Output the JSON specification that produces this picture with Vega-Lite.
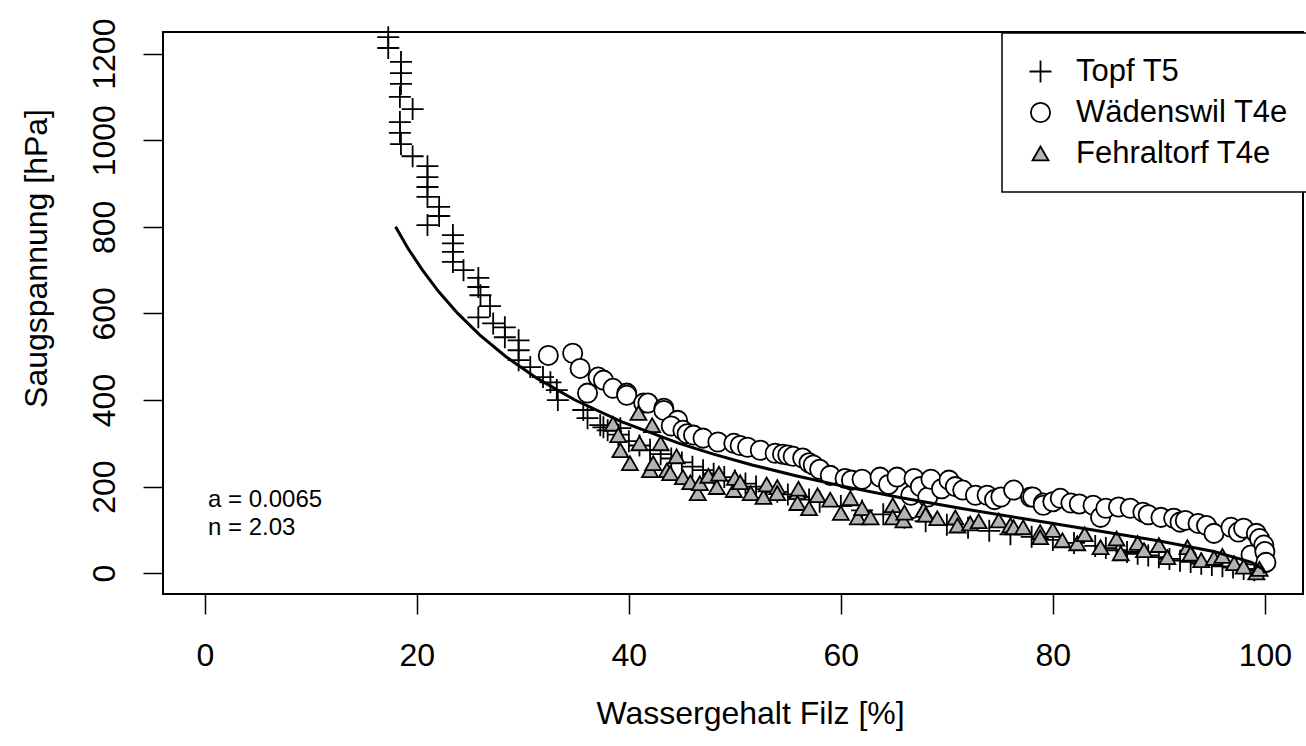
{
  "$schema": "https://vega.github.io/schema/vega-lite/v6.json",
  "width": 1140,
  "height": 562,
  "autosize": {"type": "none"},
  "padding": {"left": 163, "top": 32, "right": 3, "bottom": 152},
  "background": "white",
  "config": {
    "view": {"stroke": "black", "strokeWidth": 2},
    "font": "Liberation Sans",
    "axis": {
      "domain": false, "grid": false, "tickColor": "black", "tickSize": 20, "tickWidth": 1.5,
      "labelFont": "Liberation Sans", "labelFontSize": 32, "labelColor": "black",
      "titleFont": "Liberation Sans", "titleFontSize": 32, "titleFontWeight": "normal", "titleColor": "black"
    },
    "legend": {
      "orient": "none", "legendX": 839, "legendY": 1, "strokeColor": "black", "strokeWidth": 1.5,
      "fillColor": "white", "padding": 23, "labelFont": "Liberation Sans", "labelFontSize": 31,
      "labelColor": "black", "labelOffset": 20, "rowPadding": 9, "labelLimit": 0,
      "symbolStrokeWidth": 1.8, "symbolStrokeColor": "black", "symbolOpacity": 1, "title": null
    }
  },
  "layer": [
    {
      "data": {"values": [
        {"series": "Topf T5", "theta": 17.3, "h": 1238}, {"series": "Topf T5", "theta": 17.3, "h": 1213},
        {"series": "Topf T5", "theta": 18.5, "h": 1181}, {"series": "Topf T5", "theta": 18.5, "h": 1155},
        {"series": "Topf T5", "theta": 18.5, "h": 1130}, {"series": "Topf T5", "theta": 18.4, "h": 1100},
        {"series": "Topf T5", "theta": 19.6, "h": 1072}, {"series": "Topf T5", "theta": 18.4, "h": 1042},
        {"series": "Topf T5", "theta": 18.4, "h": 1017}, {"series": "Topf T5", "theta": 18.5, "h": 991},
        {"series": "Topf T5", "theta": 19.6, "h": 963}, {"series": "Topf T5", "theta": 21.0, "h": 940},
        {"series": "Topf T5", "theta": 21.0, "h": 915}, {"series": "Topf T5", "theta": 21.0, "h": 892},
        {"series": "Topf T5", "theta": 21.0, "h": 869}, {"series": "Topf T5", "theta": 22.1, "h": 846},
        {"series": "Topf T5", "theta": 22.1, "h": 825}, {"series": "Topf T5", "theta": 21.0, "h": 804},
        {"series": "Topf T5", "theta": 23.4, "h": 781}, {"series": "Topf T5", "theta": 23.4, "h": 762},
        {"series": "Topf T5", "theta": 23.4, "h": 742}, {"series": "Topf T5", "theta": 23.4, "h": 719},
        {"series": "Topf T5", "theta": 24.4, "h": 700}, {"series": "Topf T5", "theta": 25.8, "h": 682},
        {"series": "Topf T5", "theta": 25.8, "h": 661}, {"series": "Topf T5", "theta": 26.0, "h": 642},
        {"series": "Topf T5", "theta": 26.9, "h": 617}, {"series": "Topf T5", "theta": 25.8, "h": 591},
        {"series": "Topf T5", "theta": 27.2, "h": 577}, {"series": "Topf T5", "theta": 28.3, "h": 568},
        {"series": "Topf T5", "theta": 28.3, "h": 545}, {"series": "Topf T5", "theta": 29.6, "h": 538},
        {"series": "Topf T5", "theta": 29.6, "h": 515}, {"series": "Topf T5", "theta": 29.6, "h": 492},
        {"series": "Topf T5", "theta": 30.7, "h": 476}, {"series": "Topf T5", "theta": 31.9, "h": 453},
        {"series": "Topf T5", "theta": 32.6, "h": 441}, {"series": "Topf T5", "theta": 33.2, "h": 423},
        {"series": "Topf T5", "theta": 33.3, "h": 400}, {"series": "Topf T5", "theta": 35.7, "h": 377},
        {"series": "Topf T5", "theta": 36.1, "h": 358}, {"series": "Topf T5", "theta": 37.3, "h": 342},
        {"series": "Topf T5", "theta": 37.6, "h": 337}, {"series": "Topf T5", "theta": 39.2, "h": 335},
        {"series": "Topf T5", "theta": 38.0, "h": 330}, {"series": "Topf T5", "theta": 39.0, "h": 320},
        {"series": "Topf T5", "theta": 40.0, "h": 305}, {"series": "Topf T5", "theta": 41.0, "h": 295},
        {"series": "Topf T5", "theta": 42.0, "h": 285}, {"series": "Topf T5", "theta": 43.0, "h": 275},
        {"series": "Topf T5", "theta": 44.0, "h": 265}, {"series": "Topf T5", "theta": 45.0, "h": 256},
        {"series": "Topf T5", "theta": 46.0, "h": 246}, {"series": "Topf T5", "theta": 47.0, "h": 238},
        {"series": "Topf T5", "theta": 48.0, "h": 230}, {"series": "Topf T5", "theta": 49.0, "h": 222},
        {"series": "Topf T5", "theta": 50.0, "h": 214}, {"series": "Topf T5", "theta": 51.0, "h": 207},
        {"series": "Topf T5", "theta": 52.0, "h": 200}, {"series": "Topf T5", "theta": 53.0, "h": 194},
        {"series": "Topf T5", "theta": 54.0, "h": 188}, {"series": "Topf T5", "theta": 55.0, "h": 182},
        {"series": "Topf T5", "theta": 56.0, "h": 176}, {"series": "Topf T5", "theta": 57.0, "h": 170},
        {"series": "Topf T5", "theta": 58.0, "h": 165}, {"series": "Topf T5", "theta": 60.0, "h": 155},
        {"series": "Topf T5", "theta": 62.0, "h": 145}, {"series": "Topf T5", "theta": 64.0, "h": 136},
        {"series": "Topf T5", "theta": 66.0, "h": 128}, {"series": "Topf T5", "theta": 68.0, "h": 120},
        {"series": "Topf T5", "theta": 70.0, "h": 112}, {"series": "Topf T5", "theta": 72.0, "h": 105},
        {"series": "Topf T5", "theta": 74.0, "h": 98}, {"series": "Topf T5", "theta": 76.0, "h": 90},
        {"series": "Topf T5", "theta": 78.0, "h": 84}, {"series": "Topf T5", "theta": 80.0, "h": 77},
        {"series": "Topf T5", "theta": 82.0, "h": 70}, {"series": "Topf T5", "theta": 84.0, "h": 63},
        {"series": "Topf T5", "theta": 85.0, "h": 58}, {"series": "Topf T5", "theta": 86.0, "h": 53},
        {"series": "Topf T5", "theta": 87.0, "h": 49}, {"series": "Topf T5", "theta": 88.0, "h": 45},
        {"series": "Topf T5", "theta": 89.0, "h": 41}, {"series": "Topf T5", "theta": 90.0, "h": 37},
        {"series": "Topf T5", "theta": 91.0, "h": 33}, {"series": "Topf T5", "theta": 92.0, "h": 29},
        {"series": "Topf T5", "theta": 93.0, "h": 26}, {"series": "Topf T5", "theta": 94.0, "h": 22},
        {"series": "Topf T5", "theta": 95.0, "h": 19}, {"series": "Topf T5", "theta": 96.0, "h": 16},
        {"series": "Topf T5", "theta": 97.0, "h": 13}, {"series": "Topf T5", "theta": 98.0, "h": 10},
        {"series": "Topf T5", "theta": 99.0, "h": 7},

        {"series": "Wädenswil T4e", "theta": 32.4, "h": 503}, {"series": "Wädenswil T4e", "theta": 34.7, "h": 508},
        {"series": "Wädenswil T4e", "theta": 35.4, "h": 473}, {"series": "Wädenswil T4e", "theta": 37.1, "h": 453},
        {"series": "Wädenswil T4e", "theta": 37.6, "h": 446}, {"series": "Wädenswil T4e", "theta": 36.1, "h": 416},
        {"series": "Wädenswil T4e", "theta": 38.5, "h": 427}, {"series": "Wädenswil T4e", "theta": 39.8, "h": 416},
        {"series": "Wädenswil T4e", "theta": 39.8, "h": 411}, {"series": "Wädenswil T4e", "theta": 41.4, "h": 393},
        {"series": "Wädenswil T4e", "theta": 41.8, "h": 393}, {"series": "Wädenswil T4e", "theta": 43.3, "h": 381},
        {"series": "Wädenswil T4e", "theta": 43.3, "h": 376}, {"series": "Wädenswil T4e", "theta": 44.6, "h": 353},
        {"series": "Wädenswil T4e", "theta": 44.0, "h": 340}, {"series": "Wädenswil T4e", "theta": 45.1, "h": 330},
        {"series": "Wädenswil T4e", "theta": 45.5, "h": 322}, {"series": "Wädenswil T4e", "theta": 46.1, "h": 319},
        {"series": "Wädenswil T4e", "theta": 47.0, "h": 312}, {"series": "Wädenswil T4e", "theta": 48.4, "h": 303},
        {"series": "Wädenswil T4e", "theta": 49.9, "h": 300}, {"series": "Wädenswil T4e", "theta": 50.5, "h": 295},
        {"series": "Wädenswil T4e", "theta": 51.2, "h": 291}, {"series": "Wädenswil T4e", "theta": 52.4, "h": 284},
        {"series": "Wädenswil T4e", "theta": 53.8, "h": 277}, {"series": "Wädenswil T4e", "theta": 54.5, "h": 275},
        {"series": "Wädenswil T4e", "theta": 55.0, "h": 273}, {"series": "Wädenswil T4e", "theta": 55.5, "h": 270},
        {"series": "Wädenswil T4e", "theta": 56.4, "h": 266}, {"series": "Wädenswil T4e", "theta": 57.0, "h": 255},
        {"series": "Wädenswil T4e", "theta": 57.4, "h": 250}, {"series": "Wädenswil T4e", "theta": 58.0, "h": 240},
        {"series": "Wädenswil T4e", "theta": 59.0, "h": 226}, {"series": "Wädenswil T4e", "theta": 60.4, "h": 219},
        {"series": "Wädenswil T4e", "theta": 61.0, "h": 215}, {"series": "Wädenswil T4e", "theta": 62.0, "h": 217},
        {"series": "Wädenswil T4e", "theta": 63.7, "h": 222}, {"series": "Wädenswil T4e", "theta": 64.5, "h": 205},
        {"series": "Wädenswil T4e", "theta": 65.3, "h": 222}, {"series": "Wädenswil T4e", "theta": 66.6, "h": 180},
        {"series": "Wädenswil T4e", "theta": 66.9, "h": 219}, {"series": "Wädenswil T4e", "theta": 67.5, "h": 200},
        {"series": "Wädenswil T4e", "theta": 68.2, "h": 176}, {"series": "Wädenswil T4e", "theta": 68.5, "h": 217},
        {"series": "Wädenswil T4e", "theta": 69.5, "h": 195}, {"series": "Wädenswil T4e", "theta": 70.2, "h": 215},
        {"series": "Wädenswil T4e", "theta": 70.8, "h": 200}, {"series": "Wädenswil T4e", "theta": 71.5, "h": 192},
        {"series": "Wädenswil T4e", "theta": 72.7, "h": 180}, {"series": "Wädenswil T4e", "theta": 73.8, "h": 180},
        {"series": "Wädenswil T4e", "theta": 74.5, "h": 170}, {"series": "Wädenswil T4e", "theta": 75.1, "h": 176},
        {"series": "Wädenswil T4e", "theta": 76.3, "h": 192}, {"series": "Wädenswil T4e", "theta": 77.9, "h": 176},
        {"series": "Wädenswil T4e", "theta": 78.1, "h": 176}, {"series": "Wädenswil T4e", "theta": 79.1, "h": 162},
        {"series": "Wädenswil T4e", "theta": 79.1, "h": 157}, {"series": "Wädenswil T4e", "theta": 80.0, "h": 165},
        {"series": "Wädenswil T4e", "theta": 80.7, "h": 173}, {"series": "Wädenswil T4e", "theta": 81.7, "h": 162},
        {"series": "Wädenswil T4e", "theta": 82.5, "h": 160}, {"series": "Wädenswil T4e", "theta": 83.8, "h": 157},
        {"series": "Wädenswil T4e", "theta": 84.5, "h": 129}, {"series": "Wädenswil T4e", "theta": 85.0, "h": 150},
        {"series": "Wädenswil T4e", "theta": 86.2, "h": 153}, {"series": "Wädenswil T4e", "theta": 87.3, "h": 150},
        {"series": "Wädenswil T4e", "theta": 88.5, "h": 141}, {"series": "Wädenswil T4e", "theta": 89.0, "h": 135},
        {"series": "Wädenswil T4e", "theta": 90.2, "h": 129}, {"series": "Wädenswil T4e", "theta": 91.4, "h": 127},
        {"series": "Wädenswil T4e", "theta": 92.0, "h": 118}, {"series": "Wädenswil T4e", "theta": 92.5, "h": 122},
        {"series": "Wädenswil T4e", "theta": 93.7, "h": 115}, {"series": "Wädenswil T4e", "theta": 94.5, "h": 110},
        {"series": "Wädenswil T4e", "theta": 95.2, "h": 92}, {"series": "Wädenswil T4e", "theta": 96.8, "h": 106},
        {"series": "Wädenswil T4e", "theta": 97.5, "h": 95}, {"series": "Wädenswil T4e", "theta": 98.0, "h": 104},
        {"series": "Wädenswil T4e", "theta": 98.7, "h": 42}, {"series": "Wädenswil T4e", "theta": 99.2, "h": 92},
        {"series": "Wädenswil T4e", "theta": 99.5, "h": 80}, {"series": "Wädenswil T4e", "theta": 99.9, "h": 65},
        {"series": "Wädenswil T4e", "theta": 100.0, "h": 50}, {"series": "Wädenswil T4e", "theta": 100.1, "h": 25},

        {"series": "Fehraltorf T4e", "theta": 38.5, "h": 345}, {"series": "Fehraltorf T4e", "theta": 39.0, "h": 319},
        {"series": "Fehraltorf T4e", "theta": 39.2, "h": 284}, {"series": "Fehraltorf T4e", "theta": 40.1, "h": 254},
        {"series": "Fehraltorf T4e", "theta": 40.9, "h": 370}, {"series": "Fehraltorf T4e", "theta": 41.0, "h": 300},
        {"series": "Fehraltorf T4e", "theta": 42.2, "h": 342}, {"series": "Fehraltorf T4e", "theta": 42.0, "h": 238},
        {"series": "Fehraltorf T4e", "theta": 42.3, "h": 254}, {"series": "Fehraltorf T4e", "theta": 43.0, "h": 300},
        {"series": "Fehraltorf T4e", "theta": 43.6, "h": 238}, {"series": "Fehraltorf T4e", "theta": 43.9, "h": 231},
        {"series": "Fehraltorf T4e", "theta": 44.5, "h": 270}, {"series": "Fehraltorf T4e", "theta": 45.1, "h": 222},
        {"series": "Fehraltorf T4e", "theta": 45.8, "h": 210}, {"series": "Fehraltorf T4e", "theta": 46.5, "h": 185},
        {"series": "Fehraltorf T4e", "theta": 46.7, "h": 208}, {"series": "Fehraltorf T4e", "theta": 47.5, "h": 225},
        {"series": "Fehraltorf T4e", "theta": 48.3, "h": 199}, {"series": "Fehraltorf T4e", "theta": 48.5, "h": 230},
        {"series": "Fehraltorf T4e", "theta": 49.9, "h": 192}, {"series": "Fehraltorf T4e", "theta": 50.0, "h": 220},
        {"series": "Fehraltorf T4e", "theta": 50.5, "h": 210}, {"series": "Fehraltorf T4e", "theta": 51.5, "h": 185},
        {"series": "Fehraltorf T4e", "theta": 52.7, "h": 176}, {"series": "Fehraltorf T4e", "theta": 53.0, "h": 205},
        {"series": "Fehraltorf T4e", "theta": 54.0, "h": 199}, {"series": "Fehraltorf T4e", "theta": 54.0, "h": 185},
        {"series": "Fehraltorf T4e", "theta": 55.9, "h": 187}, {"series": "Fehraltorf T4e", "theta": 55.9, "h": 162},
        {"series": "Fehraltorf T4e", "theta": 56.0, "h": 195}, {"series": "Fehraltorf T4e", "theta": 57.0, "h": 150},
        {"series": "Fehraltorf T4e", "theta": 57.8, "h": 180}, {"series": "Fehraltorf T4e", "theta": 59.0, "h": 170},
        {"series": "Fehraltorf T4e", "theta": 60.0, "h": 139}, {"series": "Fehraltorf T4e", "theta": 60.9, "h": 173},
        {"series": "Fehraltorf T4e", "theta": 61.6, "h": 129}, {"series": "Fehraltorf T4e", "theta": 62.0, "h": 150},
        {"series": "Fehraltorf T4e", "theta": 62.8, "h": 129}, {"series": "Fehraltorf T4e", "theta": 64.9, "h": 157},
        {"series": "Fehraltorf T4e", "theta": 64.9, "h": 129}, {"series": "Fehraltorf T4e", "theta": 65.9, "h": 122},
        {"series": "Fehraltorf T4e", "theta": 66.0, "h": 140}, {"series": "Fehraltorf T4e", "theta": 67.8, "h": 146},
        {"series": "Fehraltorf T4e", "theta": 68.0, "h": 135}, {"series": "Fehraltorf T4e", "theta": 69.1, "h": 127},
        {"series": "Fehraltorf T4e", "theta": 70.8, "h": 129}, {"series": "Fehraltorf T4e", "theta": 71.0, "h": 110},
        {"series": "Fehraltorf T4e", "theta": 72.2, "h": 115}, {"series": "Fehraltorf T4e", "theta": 73.0, "h": 120},
        {"series": "Fehraltorf T4e", "theta": 74.9, "h": 122}, {"series": "Fehraltorf T4e", "theta": 76.0, "h": 111},
        {"series": "Fehraltorf T4e", "theta": 76.3, "h": 106}, {"series": "Fehraltorf T4e", "theta": 77.2, "h": 106},
        {"series": "Fehraltorf T4e", "theta": 78.8, "h": 95}, {"series": "Fehraltorf T4e", "theta": 78.8, "h": 83},
        {"series": "Fehraltorf T4e", "theta": 80.0, "h": 100}, {"series": "Fehraltorf T4e", "theta": 80.9, "h": 76},
        {"series": "Fehraltorf T4e", "theta": 82.3, "h": 69}, {"series": "Fehraltorf T4e", "theta": 83.0, "h": 90},
        {"series": "Fehraltorf T4e", "theta": 84.5, "h": 60}, {"series": "Fehraltorf T4e", "theta": 86.0, "h": 80},
        {"series": "Fehraltorf T4e", "theta": 86.4, "h": 46}, {"series": "Fehraltorf T4e", "theta": 88.0, "h": 70},
        {"series": "Fehraltorf T4e", "theta": 88.6, "h": 53}, {"series": "Fehraltorf T4e", "theta": 90.0, "h": 65},
        {"series": "Fehraltorf T4e", "theta": 90.8, "h": 37}, {"series": "Fehraltorf T4e", "theta": 92.7, "h": 60},
        {"series": "Fehraltorf T4e", "theta": 93.0, "h": 45}, {"series": "Fehraltorf T4e", "theta": 94.0, "h": 30},
        {"series": "Fehraltorf T4e", "theta": 95.2, "h": 35}, {"series": "Fehraltorf T4e", "theta": 96.0, "h": 40},
        {"series": "Fehraltorf T4e", "theta": 97.1, "h": 23}, {"series": "Fehraltorf T4e", "theta": 98.0, "h": 15},
        {"series": "Fehraltorf T4e", "theta": 99.2, "h": 2}, {"series": "Fehraltorf T4e", "theta": 99.5, "h": 10}
      ]},
      "mark": {"type": "point", "filled": true, "stroke": "black", "strokeWidth": 1.8, "opacity": 1},
      "encoding": {
        "x": {"field": "theta", "type": "quantitative",
              "scale": {"domain": [-3.95, 103.6], "nice": false, "zero": false},
              "axis": {"values": [0, 20, 40, 60, 80, 100], "labelPadding": 26, "labelAngle": 0,
                       "title": "Wassergehalt Filz [%]", "titleX": 587, "titleY": 129,
                       "titleBaseline": "alphabetic", "titleAlign": "center", "titleAnchor": "start"}},
        "y": {"field": "h", "type": "quantitative",
              "scale": {"domain": [-48, 1250], "nice": false, "zero": false},
              "axis": {"values": [0, 200, 400, 600, 800, 1000, 1200], "format": "d", "labelAngle": 270,
                       "labelAlign": "center", "labelBaseline": "bottom", "labelPadding": 22,
                       "title": "Saugspannung [hPa]", "titleAngle": 270, "titleX": -117, "titleY": 226,
                       "titleBaseline": "alphabetic", "titleAlign": "center", "titleAnchor": "start"}},
        "shape": {"field": "series", "type": "nominal",
                  "scale": {"domain": ["Topf T5", "Wädenswil T4e", "Fehraltorf T4e"],
                            "range": ["M-1,0H1M0,-1V1", "circle", "triangle-up"]},
                  "legend": {"labelLimit": 0, "symbolStrokeColor": "black",
                             "encode": {"symbols": {"update": {"stroke": {"value": "black"}, "strokeWidth": {"value": 1.8}, "opacity": {"value": 1}}}}}},
        "fill": {"field": "series", "type": "nominal",
                 "scale": {"domain": ["Topf T5", "Wädenswil T4e", "Fehraltorf T4e"],
                           "range": ["transparent", "white", "#b3b3b3"]},
                 "legend": {"labelLimit": 0, "symbolStrokeColor": "black",
                            "encode": {"symbols": {"update": {"stroke": {"value": "black"}, "strokeWidth": {"value": 1.8}, "opacity": {"value": 1}}}}}},
        "size": {"field": "series", "type": "nominal",
                 "scale": {"domain": ["Topf T5", "Wädenswil T4e", "Fehraltorf T4e"],
                           "range": [484, 256, 300]},
                 "legend": {"labelLimit": 0, "symbolStrokeColor": "black",
                            "encode": {"symbols": {"update": {"stroke": {"value": "black"}, "strokeWidth": {"value": 1.8}, "opacity": {"value": 1}}}}}}
      }
    },
    {
      "data": {"values": [
        {"theta": 17.99, "h": 800}, {"theta": 19.17, "h": 750}, {"theta": 20.53, "h": 700},
        {"theta": 22.07, "h": 650}, {"theta": 23.86, "h": 600}, {"theta": 25.95, "h": 550},
        {"theta": 28.41, "h": 500}, {"theta": 31.35, "h": 450}, {"theta": 34.91, "h": 400},
        {"theta": 39.29, "h": 350}, {"theta": 44.74, "h": 300}, {"theta": 47.98, "h": 275},
        {"theta": 51.63, "h": 250}, {"theta": 55.75, "h": 225}, {"theta": 60.38, "h": 200},
        {"theta": 65.55, "h": 175}, {"theta": 71.26, "h": 150}, {"theta": 77.42, "h": 125},
        {"theta": 83.79, "h": 100}, {"theta": 89.93, "h": 75}, {"theta": 95.19, "h": 50},
        {"theta": 98.75, "h": 25}, {"theta": 99.8, "h": 10}, {"theta": 100, "h": 0}
      ]},
      "mark": {"type": "line", "color": "black", "strokeWidth": 3},
      "encoding": {
        "x": {"field": "theta", "type": "quantitative"},
        "y": {"field": "h", "type": "quantitative"}
      }
    },
    {
      "data": {"values": [
        {"label": "a = 0.0065", "theta": 0.3, "h": 169},
        {"label": "n = 2.03", "theta": 0.3, "h": 104}
      ]},
      "mark": {"type": "text", "align": "left", "baseline": "middle", "fontSize": 24, "font": "Liberation Sans", "color": "black"},
      "encoding": {
        "x": {"field": "theta", "type": "quantitative"},
        "y": {"field": "h", "type": "quantitative"},
        "text": {"field": "label"}
      }
    }
  ]
}
